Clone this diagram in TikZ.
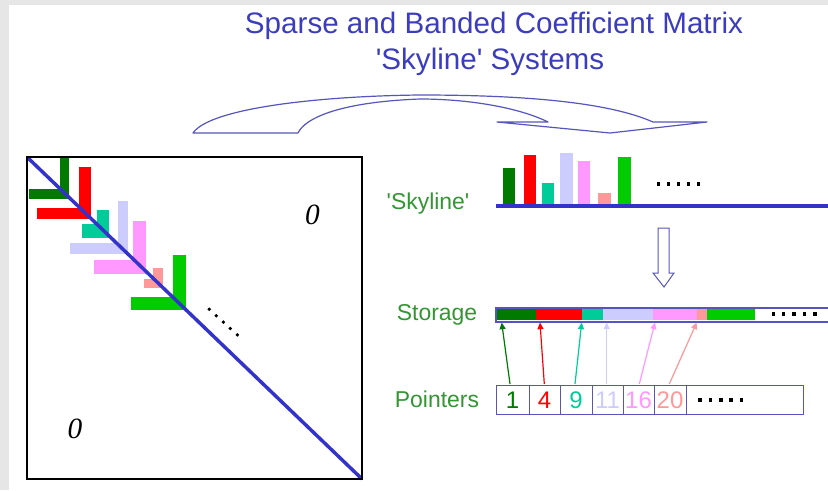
\documentclass[tikz,border=0pt]{standalone}
\usepackage{fontspec}
\setmainfont{Liberation Sans}
\newfontfamily\zerofont{Liberation Serif}
\usetikzlibrary{arrows.meta}
\definecolor{dgreen}{RGB}{0,122,0}
\definecolor{mred}{RGB}{255,0,0}
\definecolor{tealc}{RGB}{0,204,153}
\definecolor{lav}{RGB}{204,204,255}
\definecolor{pinkc}{RGB}{255,153,255}
\definecolor{salm}{RGB}{255,153,153}
\definecolor{bgreen}{RGB}{0,204,0}
\definecolor{diagblue}{RGB}{51,51,204}
\definecolor{titleblue}{RGB}{60,60,190}
\definecolor{lblgreen}{RGB}{51,150,51}
\definecolor{outl}{RGB}{85,85,187}
\definecolor{bandgray}{RGB}{230,230,230}
\begin{document}
\begin{tikzpicture}[x=0.75pt,y=-0.75pt,
  titletext/.style={font=\fontsize{22.2}{26}\selectfont, text=titleblue, anchor=base, inner sep=0pt},
  lbl/.style={font=\fontsize{17.2}{20}\selectfont, text=lblgreen, anchor=base, inner sep=0pt},
  num/.style={font=\fontsize{18}{21}\selectfont, anchor=base, inner sep=0pt},
  zero/.style={font=\zerofont\itshape\fontsize{22}{26}\selectfont, inner sep=0pt},
  ptr/.style={line width=0.9pt, -{Triangle[length=5pt,width=4.5pt]}},
  dotsq/.style={fill=black, minimum size=2.6pt, inner sep=0pt, draw=none, rectangle},
  thinout/.style={draw=outl, line width=0.75pt}]
\useasboundingbox (0,0) rectangle (828,490);
\fill[white] (0,0) rectangle (828,490);
\fill[bandgray] (0,0) rectangle (828,5);
\fill[bandgray] (0,0) rectangle (9,490);

% title
\node[titletext] (title1) at (494,33) {Sparse and Banded Coefficient Matrix};
\node[titletext] (title2) at (490,69) {\textquotesingle Skyline\textquotesingle{} Systems};

% big curved hollow arrow
\draw[outl, line width=0.9pt, line join=round]
  (193,133) .. controls (210,108) and (320,96) .. (420,95)
  .. controls (530,95) and (610,103) .. (653,122)
  -- (707,122) -- (610,133) -- (497,122) -- (548,122)
  .. controls (520,108) and (470,99) .. (420,99)
  .. controls (340,102) and (305,118) .. (298,133) -- cycle;

% matrix blocks
\fill[dgreen] (60,157) rectangle (69,199);   \fill[dgreen] (29,189) rectangle (69,199);
\fill[mred]   (79,167) rectangle (91,219);   \fill[mred]   (37,208) rectangle (91,219);
\fill[tealc]  (97,210) rectangle (109,238);  \fill[tealc]  (82,224) rectangle (109,238);
\fill[lav]    (118,201) rectangle (128,254); \fill[lav]    (70,243) rectangle (128,254);
\fill[pinkc]  (133,221) rectangle (146,274); \fill[pinkc]  (94,260) rectangle (146,274);
\fill[salm]   (153,268) rectangle (163,288); \fill[salm]   (144,279) rectangle (163,288);
\fill[bgreen] (173,255) rectangle (186,310); \fill[bgreen] (131,297) rectangle (186,310);
% diagonal
\coordinate (mtl) at (27,157);
\coordinate (mbr) at (362,479);
\draw[diagblue, line width=2.6pt] (mtl) -- (mbr);
% matrix frame
\draw[black, line width=2pt] (mtl) rectangle (mbr);
% dots in matrix
\foreach \i in {0,...,4} \fill (209.3+7*\i,309.3+6.4*\i) circle[radius=1.4pt];
% zeros
\node[zero] (z1) at (312.5,215) {0};
\node[zero] (z2) at (75,429) {0};

% skyline
\node[lbl] (skyl) at (428,209) {\textquotesingle Skyline\textquotesingle};
\fill[dgreen] (502.7,167.7) rectangle (515,206);
\fill[mred]   (524,155) rectangle (535.7,206);
\fill[tealc]  (541.7,182.7) rectangle (554.3,206);
\fill[lav]    (560,153.3) rectangle (573.3,206);
\fill[pinkc]  (578.3,160.7) rectangle (590,206);
\fill[salm]   (598.3,192.7) rectangle (611,206);
\fill[bgreen] (617.7,157.3) rectangle (631,206);
\draw[diagblue, line width=3pt] (496,206) -- (830,206);
\foreach \i in {0,...,4} \node[dotsq] at (658.3+10*\i,184) {};

% hollow down arrow
\draw[thinout, line join=miter] (658,228) -- (669,228) -- (669,273) -- (674,273) -- (664,287)
  -- (653,273) -- (658,273) -- cycle;

% storage
\node[lbl] (stor) at (437,320) {Storage};
\fill[dgreen] (496.7,309) rectangle (535.7,320);
\fill[mred]   (535.7,309) rectangle (582.3,320);
\fill[tealc]  (582.3,309) rectangle (603.3,320);
\fill[lav]    (603.3,309) rectangle (652.7,320);
\fill[pinkc]  (652.7,309) rectangle (697.3,320);
\fill[salm]   (697.3,309) rectangle (706.7,320);
\fill[bgreen] (706.7,309) rectangle (755,320);
\draw[outl, line width=1.5pt] (496,307.5) rectangle (840,321.5);
\foreach \i in {0,...,4} \node[dotsq] at (773.3+10.4*\i,314) {};
\coordinate (s1) at (501.7,322.5);
\coordinate (s2) at (540,322.5);
\coordinate (s3) at (581.7,322.5);
\coordinate (s4) at (606.7,322.5);
\coordinate (s5) at (655,322.5);
\coordinate (s6) at (696.7,322.5);

% pointers
\node[lbl] (ptrs) at (437,407) {Pointers};
\draw[thinout] (496,385) rectangle (803,414);
\foreach \x in {529,560,592,623,654,686} \draw[thinout] (\x,385) -- (\x,414);
\node[num, text=dgreen] (n1) at (512.5,408.5) {1};
\node[num, text=mred]   (n2) at (544.5,408.5) {4};
\node[num, text=tealc]  (n3) at (576,408.5) {9};
\node[num, text=lav]    (n4) at (607.5,408.5) {11};
\node[num, text=pinkc]  (n5) at (638.5,408.5) {16};
\node[num, text=salm]   (n6) at (670,408.5) {20};
\foreach \i in {0,...,4} \node[dotsq] at (700+10.4*\i,400) {};
\coordinate (p1) at (510,384);
\coordinate (p2) at (544.3,384);
\coordinate (p3) at (575,384);
\coordinate (p4) at (606.7,384);
\coordinate (p5) at (639.3,384);
\coordinate (p6) at (669.3,384);
\draw[ptr, dgreen] (p1) -- (s1);
\draw[ptr, mred]   (p2) -- (s2);
\draw[ptr, tealc]  (p3) -- (s3);
\draw[ptr, lav]    (p4) -- (s4);
\draw[ptr, pinkc]  (p5) -- (s5);
\draw[ptr, salm]   (p6) -- (s6);
\end{tikzpicture}
\end{document}
